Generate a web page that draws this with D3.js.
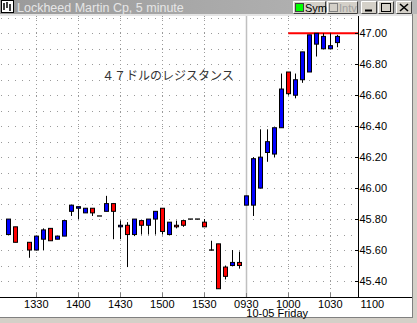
<!DOCTYPE html>
<html>
<head>
<meta charset="utf-8">
<script src="https://cdn.jsdelivr.net/npm/d3@7"></script>
<style>
  body { margin: 0; background: #d4d0c8; }
  svg { display: block; font-family: "Liberation Sans", Arial, sans-serif; }
</style>
</head>
<body>
<div id="chart"></div>
<script>
// datos: una vela cada 5 minutos, null = sin operaciones
const times  = ["1310","1315","1320","1325","1330","1335","1340","1345","1350","1355",
                "1400","1405","1410","1415","1420","1425","1430","1435","1440","1445",
                "1450","1455","1500","1505","1510","1515","1520","1525","1530","1535",
                "1540","1545","1550","1555","0930","0935","0940","0945","0950","0955",
                "1000","1005","1010","1015","1020","1025","1030","1035"]
const opens  = [45.70,45.75,null,45.65,45.60,45.67,45.74,45.67,45.69,45.85,
                45.87,45.84,45.87,45.82,45.85,45.90,45.75,45.76,45.70,45.79,
                45.76,45.80,45.87,45.70,45.76,45.79,45.80,45.80,45.78,45.60,
                45.64,45.49,45.50,45.52,45.89,45.89,46.00,46.23,46.22,46.39,
                46.75,46.60,46.70,46.75,46.93,46.90,46.90,46.94]
const highs  = [45.80,45.75,null,45.65,45.69,45.74,45.74,45.69,45.79,45.89,
                45.88,45.87,45.87,45.82,45.95,45.90,45.79,45.78,45.80,45.79,
                45.80,45.85,45.87,45.78,45.79,45.79,45.80,45.80,45.80,45.66,
                45.64,45.50,45.60,45.59,45.95,46.20,46.38,46.38,46.39,46.74,
                46.75,46.74,46.88,46.99,47.00,47.00,47.00,46.99]
const lows   = [45.70,45.65,null,45.55,45.60,45.60,45.66,45.67,45.69,45.82,
                45.80,45.84,45.82,45.82,45.85,45.67,45.67,45.49,45.69,45.70,
                45.70,45.70,45.70,45.70,45.74,45.75,45.80,45.80,45.75,45.60,
                45.35,45.41,45.50,45.48,45.89,45.82,46.00,46.17,46.20,46.39,
                46.60,46.58,46.68,46.75,46.85,46.90,46.90,46.91]
const closes = [45.80,45.65,null,45.60,45.69,45.73,45.66,45.69,45.79,45.89,
                45.88,45.87,45.84,45.82,45.90,45.85,45.76,45.70,45.80,45.76,
                45.80,45.85,45.72,45.78,45.75,45.76,45.80,45.80,45.75,45.60,
                45.35,45.43,45.52,45.50,45.95,46.19,46.20,46.30,46.39,46.64,
                46.61,46.70,46.88,46.99,47.00,46.98,46.92,46.98]

const xTickIdx    = [4, 10, 16, 22, 28, 34, 40, 46, 52]
const xTickLabels = ["1330","1400","1430","1500","1530","0930","1000","1030","1100"]
const yTicks = [45.40, 45.60, 45.80, 46.00, 46.20, 46.40, 46.60, 46.80, 47.00]
const resistance = 47.00
const resistanceFrom = 40
const dayBreak = 34
const note = "４７ドルのレジスタンス"
const title = "Lockheed Martin Cp, 5 minute"

// CONSTANTES

const width = 417
const height = 323
const plot = { left: 0, right: 358, top: 16, bottom: 297 }

const svg = d3.select("#chart").append("svg").attr("width", width).attr("height", height)

// marco de ventana
svg.append("rect").attr("x", 0).attr("y", 0).attr("width", width).attr("height", height).attr("fill", "#d4d0c8")
svg.append("rect").attr("x", 0).attr("y", 14).attr("width", 412).attr("height", 303).attr("fill", "#fff")
svg.append("line").attr("x1", 0).attr("x2", 413).attr("y1", 317.5).attr("y2", 317.5).attr("stroke", "#808080")
svg.append("line").attr("x1", 412.5).attr("x2", 412.5).attr("y1", 14).attr("y2", 318).attr("stroke", "#808080")

const grad = svg.append("defs").append("linearGradient").attr("id", "tb")
grad.append("stop").attr("offset", "0%").attr("stop-color", "#9a9a9a")
grad.append("stop").attr("offset", "100%").attr("stop-color", "#b8b8b8")
svg.append("rect").attr("x", 0).attr("y", 0).attr("width", width).attr("height", 14).attr("fill", "url(#tb)")
svg.append("rect").attr("x", 0).attr("y", 14).attr("width", 412).attr("height", 2).attr("fill", "#e4e4e4")

// icono
const icon = svg.append("g")
icon.append("rect").attr("x", 1.5).attr("y", 0.5).attr("width", 12).attr("height", 12).attr("fill", "#fff").attr("stroke", "#000")
icon.append("path").attr("d", "M4,3V10M7,2V8M10,4V11").attr("stroke", "#000").attr("stroke-width", 1.5)

svg.append("text").attr("x", 17).attr("y", 11.5).attr("font-size", 12.5).attr("fill", "#e6e6e6").text(title)

// botones
function button(x, w) {
    const g = svg.append("g")
    g.append("rect").attr("x", x).attr("y", 1).attr("width", w).attr("height", 13).attr("fill", "#d4d0c8")
    g.append("path").attr("d", `M${x + 0.5},${13.5}V1.5H${x + w - 0.5}`).attr("stroke", "#fff").attr("fill", "none")
    g.append("path").attr("d", `M${x + 0.5},${13.5}H${x + w - 0.5}V1.5`).attr("stroke", "#404040").attr("fill", "none")
    return g
}
const sym = button(293, 33)
sym.append("rect").attr("x", 295.5).attr("y", 3.5).attr("width", 8).attr("height", 8).attr("fill", "#00ff00").attr("stroke", "#404040")
sym.append("text").attr("x", 305).attr("y", 12).attr("font-size", 11).attr("fill", "#000").text("Sym")
const intv = button(327, 31)
intv.append("rect").attr("x", 329.5).attr("y", 3.5).attr("width", 8).attr("height", 8).attr("fill", "#d4d0c8").attr("stroke", "#808080")
intv.append("text").attr("x", 339).attr("y", 12).attr("font-size", 11).attr("fill", "#a0a0a0").text("Intv")
button(361, 16).append("path").attr("d", "M365,10.5H372").attr("stroke", "#000").attr("stroke-width", 2)
button(378, 16).append("rect").attr("x", 381.5).attr("y", 3.5).attr("width", 9).attr("height", 8).attr("fill", "none").attr("stroke", "#000")
button(396, 16).append("path").attr("d", "M400,4L408,11M408,4L400,11").attr("stroke", "#000").attr("stroke-width", 1.6)

// ESCALAS

const x = d3.scaleLinear().domain([0, 52]).range([8.3, 372.3])
const y = d3.scaleLinear().domain([45.40, 47.00]).range([281, 33.3])

// rejilla
const gridY = d3.range(45.40, 47.11, 0.10)
svg.append("g").selectAll("line").data(gridY).join("line")
    .attr("x1", 1).attr("x2", plot.right)
    .attr("y1", d => Math.round(y(d)) + 0.5).attr("y2", d => Math.round(y(d)) + 0.5)
    .attr("stroke", "#9a9a9a").attr("stroke-dasharray", "1,6")

svg.append("g").selectAll("line").data(xTickIdx.filter(i => i !== dayBreak && x(i) < plot.right)).join("line")
    .attr("x1", d => Math.round(x(d)) + 0.5).attr("x2", d => Math.round(x(d)) + 0.5)
    .attr("y1", plot.top).attr("y2", plot.bottom)
    .attr("stroke", "#9a9a9a").attr("stroke-dasharray", "1,3")

svg.append("line")
    .attr("x1", Math.round(x(dayBreak)) + 0.5).attr("x2", Math.round(x(dayBreak)) + 0.5)
    .attr("y1", plot.top).attr("y2", plot.bottom)
    .attr("stroke", "#c0c0c0").attr("stroke-width", 1.5)

// resistencia
svg.append("line")
    .attr("x1", x(resistanceFrom)).attr("x2", plot.right)
    .attr("y1", y(resistance)).attr("y2", y(resistance))
    .attr("stroke", "#ff0000").attr("stroke-width", 2)

svg.append("text").attr("x", 102).attr("y", 80)
    .attr("font-family", "'Noto Sans CJK JP', sans-serif").attr("font-size", 12)
    .attr("fill", "#333").text(note)

// VELAS

const bars = times.map((t, i) => ({ i, t, o: opens[i], h: highs[i], l: lows[i], c: closes[i] }))
    .filter(d => d.o !== null)

const candles = svg.append("g")
candles.selectAll("line.wick").data(bars.filter(d => d.h > d.l)).join("line")
    .attr("class", "wick")
    .attr("x1", d => Math.round(x(d.i)) + 0.5).attr("x2", d => Math.round(x(d.i)) + 0.5)
    .attr("y1", d => y(d.h)).attr("y2", d => y(d.l))
    .attr("stroke", "#000")

candles.selectAll("rect").data(bars.filter(d => d.o !== d.c)).join("rect")
    .attr("x", d => Math.round(x(d.i)) - 1.5)
    .attr("y", d => y(Math.max(d.o, d.c)))
    .attr("width", 4)
    .attr("height", d => Math.max(1, Math.abs(y(d.o) - y(d.c))))
    .attr("fill", d => d.c > d.o ? "#0000ff" : "#ff0000")
    .attr("stroke", "#000")

candles.selectAll("line.doji").data(bars.filter(d => d.o === d.c)).join("line")
    .attr("class", "doji")
    .attr("x1", d => Math.round(x(d.i)) - 2).attr("x2", d => Math.round(x(d.i)) + 3)
    .attr("y1", d => y(d.o)).attr("y2", d => y(d.o))
    .attr("stroke", "#000").attr("stroke-width", 1.3)

// EJES

svg.append("line").attr("x1", plot.right + 0.5).attr("x2", plot.right + 0.5)
    .attr("y1", plot.top).attr("y2", plot.bottom).attr("stroke", "#000")
svg.append("line").attr("x1", 0).attr("x2", 412)
    .attr("y1", plot.bottom + 0.5).attr("y2", plot.bottom + 0.5).attr("stroke", "#000")

const yAxis = svg.append("g")
yAxis.selectAll("line").data(yTicks).join("line")
    .attr("x1", plot.right - 3).attr("x2", plot.right)
    .attr("y1", d => Math.round(y(d)) + 0.5).attr("y2", d => Math.round(y(d)) + 0.5)
    .attr("stroke", "#000")
yAxis.selectAll("text").data(yTicks).join("text")
    .attr("x", plot.right + 1.5).attr("y", d => y(d) + 4)
    .attr("font-size", 11).attr("fill", "#000")
    .text(d => d.toFixed(2))

const xAxis = svg.append("g")
xAxis.selectAll("line").data(xTickIdx.filter(i => x(i) < plot.right)).join("line")
    .attr("x1", d => Math.round(x(d)) + 0.5).attr("x2", d => Math.round(x(d)) + 0.5)
    .attr("y1", plot.bottom - 4).attr("y2", plot.bottom)
    .attr("stroke", "#808080")
xAxis.selectAll("text").data(xTickIdx).join("text")
    .attr("x", d => x(d)).attr("y", 308)
    .attr("text-anchor", "middle").attr("font-size", 11).attr("fill", "#000")
    .text((d, k) => xTickLabels[k])
xAxis.append("text").attr("x", x(dayBreak)).attr("y", 316.5)
    .attr("font-size", 11).attr("fill", "#000").text("10-05 Friday")
</script>
</body>
</html>
